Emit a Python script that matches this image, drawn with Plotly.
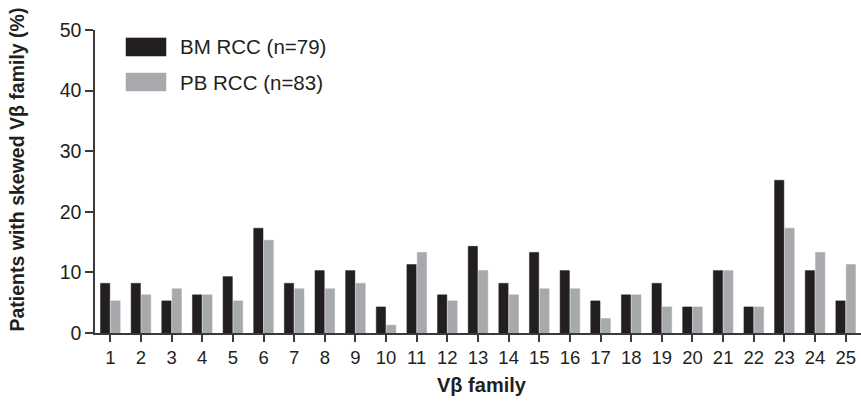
import plotly.graph_objects as go

families = [str(i) for i in range(1, 26)]
bm_rcc = [8.2, 8.2, 5.3, 6.3, 9.3, 17.3, 8.2, 10.3, 10.3, 4.3, 11.3, 6.3, 14.3,
          8.2, 13.3, 10.3, 5.3, 6.3, 8.2, 4.3, 10.3, 4.3, 25.2, 10.3, 5.3]
pb_rcc = [5.3, 6.3, 7.3, 6.3, 5.3, 15.3, 7.3, 7.3, 8.2, 1.3, 13.3, 5.3, 10.3,
          6.3, 7.3, 7.3, 2.4, 6.3, 4.3, 4.3, 10.3, 4.3, 17.3, 13.3, 11.3]
series_names = ["BM RCC (n=79)", "PB RCC (n=83)"]
colors = ["#231f20", "#a7a9ac"]
y_ticks = [0, 10, 20, 30, 40, 50]

FONT = "Liberation Sans, Arial, sans-serif"
TXT = "#231f20"

fig = go.Figure()
for name, vals, col in zip(series_names, [bm_rcc, pb_rcc], colors):
    fig.add_trace(go.Bar(
        x=list(range(1, 26)), y=vals, name=name,
        marker=dict(color=col, line=dict(color=col, width=0.5)),
        showlegend=False,
    ))

fig.update_layout(
    width=861, height=401,
    margin=dict(l=95, r=0, t=30, b=68),
    paper_bgcolor="white", plot_bgcolor="white",
    barmode="group", bargap=0.325, bargroupgap=0.1,
    font=dict(family=FONT, color=TXT),
    xaxis=dict(
        range=[0.5, 25.5], tickmode="array", tickvals=list(range(1, 26)),
        ticktext=families, ticks="outside", ticklen=7, tickwidth=1.5,
        tickcolor="#3a3a3a", showline=True, linecolor="#3a3a3a", linewidth=1.5,
        showgrid=False, zeroline=False, tickfont=dict(size=18.5, color=TXT),
    ),
    yaxis=dict(
        range=[0, 50], tickvals=y_ticks, ticks="outside", ticklen=8,
        tickwidth=1.5, tickcolor="#3a3a3a", showline=True,
        linecolor="#3a3a3a", linewidth=1.5, showgrid=False, zeroline=False,
        tickfont=dict(size=19.5, color=TXT),
    ),
)

# axis titles
fig.add_annotation(text="<b>Vβ family</b>", xref="paper", yref="paper",
                   x=0.505, y=-0.1716, xanchor="center", yanchor="middle",
                   showarrow=False, font=dict(size=20, color=TXT))
fig.add_annotation(text="<b>Patients with skewed Vβ family (%)</b>",
                   xref="paper", yref="paper", x=-0.1012, y=0.541,
                   xanchor="center", yanchor="middle", textangle=-90,
                   showarrow=False, font=dict(size=19.5, color=TXT))

# legend (drawn manually to match the large swatches)
legend_rows = [(0.914, 0.974, 0.944), (0.799, 0.858, 0.828)]
for (y0, y1, yc), name, col in zip(legend_rows, series_names, colors):
    fig.add_shape(type="rect", xref="paper", yref="paper",
                  x0=0.0405, x1=0.0927, y0=y0, y1=y1,
                  fillcolor=col, line=dict(color=col, width=0.5))
    fig.add_annotation(text=name, xref="paper", yref="paper", x=0.108, y=yc,
                       xanchor="left", yanchor="middle", showarrow=False,
                       font=dict(size=20.5, color=TXT))

fig.write_html("out.html", config={"displayModeBar": False},
               post_script="document.body.style.margin='0px';document.body.style.overflow='hidden';")
